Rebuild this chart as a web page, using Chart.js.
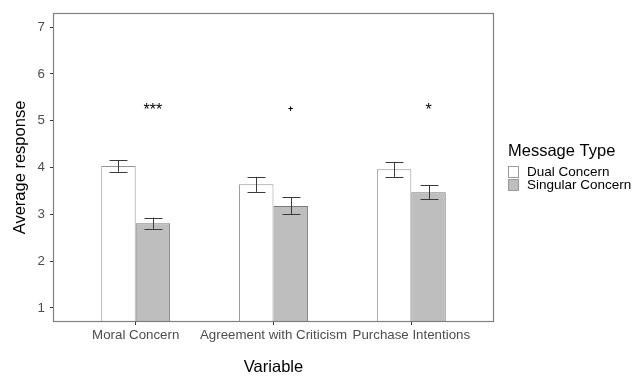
<!DOCTYPE html>
<html>
<head>
<meta charset="utf-8">
<script src="https://cdn.jsdelivr.net/npm/chart.js@4/dist/chart.umd.min.js"></script>
<style>
  html, body { margin: 0; padding: 0; background: #ffffff; }
  #wrap { width: 633px; height: 377px; }
</style>
</head>
<body>
<div id="wrap"><canvas id="chart" width="633" height="377"></canvas></div>
<script>
// Category names along the x axis
const categories = ['Moral Concern', 'Agreement with Criticism', 'Purchase Intentions'];
// Mean responses per message type
const dualMeans = [4.03, 3.64, 3.96];
const singularMeans = [2.81, 3.18, 3.47];
// Half-lengths of the error bars (standard errors)
const dualErrors = [0.12, 0.16, 0.16];
const singularErrors = [0.12, 0.18, 0.15];
// Significance markers and the height they sit at
const sigLabels = ['***', '+', '*'];
const sigY = [5.27, 5.27, 5.27];
// Y axis tick values
const yTicks = [1, 2, 3, 4, 5, 6, 7];
// Legend entries
const seriesNames = ['Dual Concern', 'Singular Concern'];

const FONT = '"Liberation Sans", Arial, Helvetica, sans-serif';
const TICK_COLOR = '#4d4d4d';
const FRAME_COLOR = '#808080';

const toPoints = (vals) => vals.map((v, i) => ({ x: i + 1, y: v }));

// Outline around the whole plotting panel
const panelBorder = {
  id: 'panelBorder',
  afterDraw(chart) {
    const { ctx, chartArea: a } = chart;
    ctx.save();
    ctx.strokeStyle = FRAME_COLOR;
    ctx.lineWidth = 1.2;
    ctx.strokeRect(a.left + 0.5, a.top + 0.5, a.right - a.left - 1, a.bottom - a.top - 1);
    ctx.restore();
  }
};

// Vertical error bars with caps, centred on each bar
const errorBars = {
  id: 'errorBars',
  afterDatasetsDraw(chart) {
    const { ctx } = chart;
    const yScale = chart.scales.y;
    ctx.save();
    ctx.strokeStyle = '#3a3a3a';
    ctx.lineWidth = 1;
    chart.data.datasets.forEach((ds, di) => {
      const meta = chart.getDatasetMeta(di);
      meta.data.forEach((bar, j) => {
        const mean = ds.data[j].y;
        const err = ds.errorBars[j];
        const x = Math.round(bar.x) + 0.5;
        const half = bar.width * 0.26;
        const yHi = yScale.getPixelForValue(mean + err);
        const yLo = yScale.getPixelForValue(mean - err);
        ctx.beginPath();
        ctx.moveTo(x, yHi);
        ctx.lineTo(x, yLo);
        ctx.moveTo(x - half, Math.round(yHi) + 0.5);
        ctx.lineTo(x + half, Math.round(yHi) + 0.5);
        ctx.moveTo(x - half, Math.round(yLo) + 0.5);
        ctx.lineTo(x + half, Math.round(yLo) + 0.5);
        ctx.stroke();
      });
    });
    ctx.restore();
  }
};

// Significance markers above the singular-concern bars
const sigMarkers = {
  id: 'sigMarkers',
  afterDatasetsDraw(chart) {
    const { ctx } = chart;
    const yScale = chart.scales.y;
    const meta = chart.getDatasetMeta(1);
    ctx.save();
    ctx.fillStyle = '#000000';
    ctx.textAlign = 'center';
    ctx.textBaseline = 'middle';
    sigLabels.forEach((lab, j) => {
      const bar = meta.data[j];
      const y = yScale.getPixelForValue(sigY[j]);
      if (lab === '+') {
        ctx.font = 'bold 9px ' + FONT;
        ctx.fillText(lab, bar.x, y + 1);
      } else {
        ctx.font = '16px ' + FONT;
        ctx.fillText(lab, bar.x, y + 3);
      }
    });
    ctx.restore();
  }
};

// Legend drawn to the right of the panel
const sideLegend = {
  id: 'sideLegend',
  afterDraw(chart) {
    const { ctx } = chart;
    const left = chart.chartArea.right + 14;
    ctx.save();
    ctx.fillStyle = '#000000';
    ctx.textBaseline = 'middle';
    ctx.textAlign = 'left';
    ctx.font = '16.5px ' + FONT;
    ctx.fillText('Message Type', left, 151);
    ctx.font = '13.5px ' + FONT;
    chart.data.datasets.forEach((ds, i) => {
      const top = 166 + i * 13;
      ctx.fillStyle = ds.backgroundColor;
      ctx.fillRect(left + 0.5, top + 0.5, 10, 11);
      ctx.strokeStyle = '#9a9a9a';
      ctx.lineWidth = 1;
      ctx.strokeRect(left + 0.5, top + 0.5, 10, 11);
      ctx.fillStyle = '#000000';
      ctx.fillText(seriesNames[i], left + 19, top + 6);
    });
    ctx.restore();
  }
};

new Chart(document.getElementById('chart'), {
  type: 'bar',
  data: {
    datasets: [
      {
        label: seriesNames[0],
        data: toPoints(dualMeans),
        errorBars: dualErrors,
        backgroundColor: '#ffffff',
        borderColor: '#959595',
        borderWidth: 1,
        categoryPercentage: 0.5,
        barPercentage: 1.0
      },
      {
        label: seriesNames[1],
        data: toPoints(singularMeans),
        errorBars: singularErrors,
        backgroundColor: '#bebebe',
        borderColor: '#7a7a7a',
        borderWidth: 1,
        categoryPercentage: 0.5,
        barPercentage: 1.0
      }
    ]
  },
  options: {
    responsive: false,
    animation: false,
    devicePixelRatio: 1,
    layout: { padding: { left: 0, top: 12, right: 139, bottom: 0 } },
    plugins: {
      legend: { display: false },
      tooltip: { enabled: false }
    },
    scales: {
      x: {
        type: 'linear',
        min: 0.4,
        max: 3.6,
        offset: false,
        afterBuildTicks: (s) => { s.ticks = categories.map((_, i) => ({ value: i + 1 })); },
        afterFit: (s) => { s.height = 55; },
        ticks: {
          callback: (v) => categories[Math.round(v) - 1],
          color: TICK_COLOR,
          font: { family: FONT, size: 13.3 },
          padding: 2,
          maxRotation: 0,
          autoSkip: false
        },
        grid: { display: true, drawOnChartArea: false, drawTicks: true, tickLength: 3, color: '#333333', offset: false },
        border: { display: false },
        title: {
          display: true,
          text: 'Variable',
          color: '#000000',
          font: { family: FONT, size: 16.5 },
          padding: { top: 0, bottom: 0 }
        }
      },
      y: {
        min: 0.7,
        max: 7.3,
        afterBuildTicks: (s) => { s.ticks = yTicks.map((v) => ({ value: v })); },
        afterFit: (s) => { s.width = 53; },
        ticks: {
          color: TICK_COLOR,
          font: { family: FONT, size: 13.3 },
          padding: 5
        },
        grid: { display: true, drawOnChartArea: false, drawTicks: true, tickLength: 3, color: '#333333' },
        border: { display: false },
        title: {
          display: true,
          text: 'Average response',
          color: '#000000',
          font: { family: FONT, size: 16.5 },
          padding: { top: 11, bottom: 0 }
        }
      }
    }
  },
  plugins: [panelBorder, errorBars, sigMarkers, sideLegend]
});
</script>
</body>
</html>
